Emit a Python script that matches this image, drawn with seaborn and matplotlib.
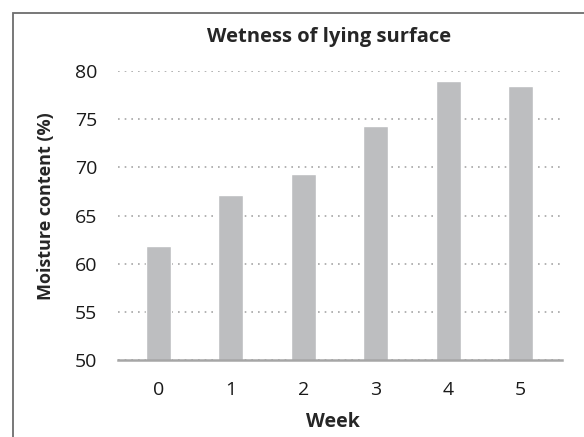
import matplotlib
matplotlib.use("Agg")
import matplotlib.pyplot as plt
from matplotlib.patches import Rectangle
import pandas as pd
import seaborn as sns

weeks = ["0", "1", "2", "3", "4", "5"]
moisture = [61.8, 67.1, 69.3, 74.3, 79.0, 78.4]
y_ticks = [50, 55, 60, 65, 70, 75, 80]

df = pd.DataFrame({"Week": weeks, "Moisture": moisture})

sns.set_style("white")
plt.rcParams["font.family"] = ["Open Sans", "DejaVu Sans"]

W, H = 584, 437
fig = plt.figure(figsize=(W / 100, H / 100), dpi=100)
# plot area: x 118..562 px, y 71..360 px
ax = fig.add_axes([118 / W, 1 - 360 / H, 444 / W, 289 / H])

sns.barplot(data=df, x="Week", y="Moisture", color="#bdbec0", width=0.345,
            saturation=1, ax=ax, zorder=3)

ax.set_ylim(50, 80)
ax.set_yticks(y_ticks)
ax.set_xlim(-0.56, 5.57)
ax.yaxis.grid(True, linestyle=(0, (1, 3)), color="#a6a6a6", linewidth=1.2, zorder=0)
ax.set_axisbelow(True)

for s in ["top", "right", "left"]:
    ax.spines[s].set_visible(False)
ax.spines["bottom"].set_color("#a6a6a6")
ax.spines["bottom"].set_linewidth(1.8)
ax.spines["bottom"].set_zorder(4)

ax.tick_params(axis="both", length=0, labelsize=14, colors="#1a1a1a")
ax.tick_params(axis="y", pad=15)
ax.tick_params(axis="x", pad=15)

ax.set_xlabel("Week", fontsize=14, fontweight="bold")
ax.xaxis.set_label_coords(0.485, (360 - 422) / 289)
ax.xaxis.label.set_va("center")
ax.set_ylabel("Moisture content (%)", fontsize=13, fontweight="bold")
ax.yaxis.set_label_coords((46 - 118) / 444, (360 - 206) / 289)
ax.yaxis.label.set_va("center")

fig.text(329 / W, 1 - 37 / H, "Wetness of lying surface", ha="center", va="center",
         fontsize=14.5, fontweight="bold")

# outer chart frame (cut at the right and bottom edges)
fig.patches.append(Rectangle((12.5 / W, -0.2), 1.2, 1.2 - 12.5 / H,
                             transform=fig.transFigure, fill=False,
                             edgecolor="#6d6d6d", linewidth=1.3))

fig.savefig("out.png", dpi=100)
